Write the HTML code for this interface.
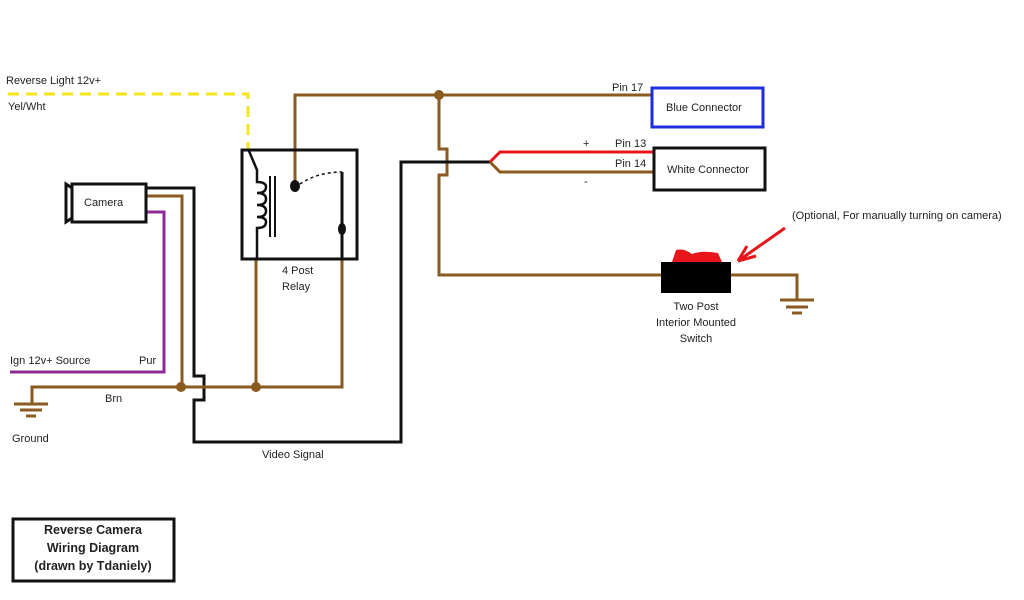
<!DOCTYPE html>
<html><head><meta charset="utf-8"><style>
html,body{margin:0;padding:0;background:#fff;width:1024px;height:600px;overflow:hidden}
svg{display:block}
text{font-family:"Liberation Sans",Arial,sans-serif;font-size:11px;fill:#222}
</style></head><body>
<svg width="1024" height="600" viewBox="0 0 1024 600" xmlns="http://www.w3.org/2000/svg">
<g fill="none" stroke-linejoin="miter">
<!-- yellow dashed -->
<path d="M8 94 H248 V150" stroke="#f5e61a" stroke-width="3" stroke-dasharray="11,7"/>
<!-- brown top wire -->
<path d="M295 185 V95 H652" stroke="#8b5a1e" stroke-width="3"/>
<path d="M439 95 V149 H447 V175 H439 V275 H662" stroke="#8b5a1e" stroke-width="3"/>
<!-- black video -->
<path d="M146 188 H194 V376 H204 V400 H194 V442 H401 V162 H490" stroke="#111" stroke-width="3"/>
<!-- split -->
<path d="M490 162 L500 152 H654" stroke="#e8151b" stroke-width="3"/>
<path d="M490 162 L500 172 H654" stroke="#8b5a1e" stroke-width="3"/>
<!-- camera brown -->
<path d="M146 196 H182 V387" stroke="#8b5a1e" stroke-width="3"/>
<!-- purple -->
<path d="M146 212 H164 V372 H10" stroke="#8e2a98" stroke-width="3"/>
<!-- ground line -->
<path d="M32 403 V387 H342 V259" stroke="#8b5a1e" stroke-width="3"/>
<path d="M256 387 V259" stroke="#8b5a1e" stroke-width="3"/>
<path d="M14 404 H48 M20 410 H42 M26 416 H36" stroke="#8b5a1e" stroke-width="3"/>
<!-- relay -->
<rect x="242" y="150" width="115" height="109" stroke="#111" stroke-width="3"/>
<path d="M249 151 L257 170 V182 Q266 182 266 187 Q266 193 257 193 Q266 193 266 199 Q266 205 257 205 Q266 205 266 211 Q266 217 257 217 Q266 217 266 222 Q266 228 257 228 V259" stroke="#111" stroke-width="2.5"/>
<path d="M270 176 V237 M275 176 V237" stroke="#111" stroke-width="2"/>
<path d="M342 172 V259" stroke="#111" stroke-width="3"/>
<path d="M300 184 Q318 172 342 172" stroke="#111" stroke-width="1.5" stroke-dasharray="3,3"/>
<!-- camera -->
<rect x="72" y="184" width="74" height="38" stroke="#111" stroke-width="3"/>
<path d="M72 188 L66 184 V222 L72 218" stroke="#111" stroke-width="3"/>
<!-- connectors -->
<rect x="652" y="88" width="111" height="39" stroke="#1e2de0" stroke-width="3"/>
<rect x="654" y="148" width="111" height="42" stroke="#111" stroke-width="3"/>
<!-- right ground -->
<path d="M731 275 H797 V300" stroke="#8b5a1e" stroke-width="3"/>
<path d="M780 300 H814 M786 307 H808 M792 313 H802" stroke="#8b5a1e" stroke-width="3"/>
<!-- red arrow -->
<path d="M785 228 L738 261 M738 261 L747 246 M738 261 L756 256" stroke="#e8151b" stroke-width="3"/>
<!-- title -->
<rect x="13" y="519" width="161" height="62" stroke="#111" stroke-width="3"/>
</g>
<!-- dots -->
<g fill="#8b5a1e">
<circle cx="439" cy="95" r="5"/><circle cx="181" cy="387" r="5"/><circle cx="256" cy="387" r="5"/>
</g>
<g fill="#111">
<ellipse cx="295" cy="186" rx="5" ry="6"/><ellipse cx="342" cy="229" rx="4" ry="6"/>
</g>
<!-- switch -->
<path d="M672 262 L676 250 Q684 248 692 254 Q702 250 718 253 L722 262 Z" fill="#e8151b"/>
<rect x="661" y="262" width="70" height="31" fill="#000"/>
<!-- text -->
<text x="6" y="84">Reverse Light 12v+</text>
<text x="8" y="110">Yel/Wht</text>
<text x="84" y="206">Camera</text>
<text x="282" y="274">4 Post</text>
<text x="282" y="290">Relay</text>
<text x="10" y="364">Ign 12v+ Source</text>
<text x="139" y="364">Pur</text>
<text x="105" y="402">Brn</text>
<text x="12" y="442">Ground</text>
<text x="262" y="458">Video Signal</text>
<text x="612" y="91">Pin 17</text>
<text x="666" y="111">Blue Connector</text>
<text x="583" y="147">+</text>
<text x="615" y="147">Pin 13</text>
<text x="615" y="167">Pin 14</text>
<text x="584" y="185">-</text>
<text x="667" y="173">White Connector</text>
<text x="792" y="219">(Optional, For manually turning on camera)</text>
<text x="696" y="310" text-anchor="middle">Two Post</text>
<text x="696" y="326" text-anchor="middle">Interior Mounted</text>
<text x="696" y="342" text-anchor="middle">Switch</text>
<g style="font-weight:bold;font-size:12.5px">
<text x="93" y="534" text-anchor="middle" style="font-weight:bold;font-size:12.5px">Reverse Camera</text>
<text x="93" y="552" text-anchor="middle" style="font-weight:bold;font-size:12.5px">Wiring Diagram</text>
<text x="93" y="570" text-anchor="middle" style="font-weight:bold;font-size:12.5px">(drawn by Tdaniely)</text>
</g>
</svg>
</body></html>
